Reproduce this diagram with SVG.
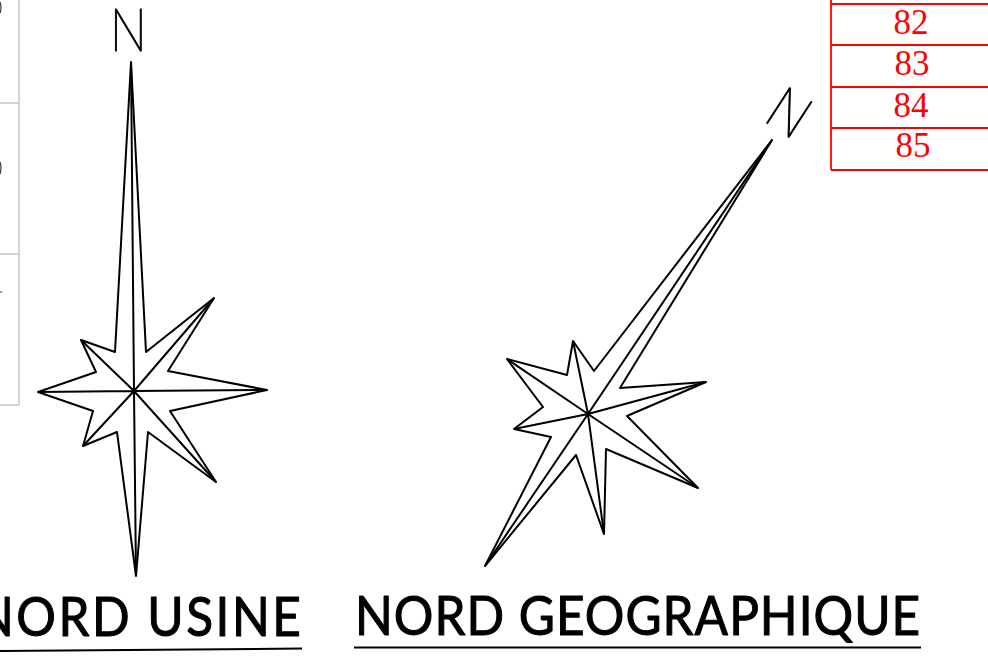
<svg xmlns="http://www.w3.org/2000/svg" width="988" height="667" viewBox="0 0 988 667">
<style>
.star{fill:#fff;stroke:#000;stroke-width:2;stroke-linejoin:round}
.spoke{fill:none;stroke:#000;stroke-width:2;stroke-linecap:butt}
.grey{fill:none;stroke:#c4c4c4;stroke-width:1.4}
.red{fill:none;stroke:#f00;stroke-width:1.8}
.num{font-family:"Liberation Serif","Times New Roman",serif;font-size:35px;fill:#f00;text-anchor:middle}
.cap{font-family:"Lato","Open Sans",sans-serif;font-size:55px;fill:#000;stroke:#000;stroke-width:1.1;stroke-linejoin:round}
.n{font-family:"Inter","Lato",sans-serif;font-weight:100;font-size:58px;fill:#000;stroke:#000;stroke-width:1.1;stroke-linejoin:round}
.rule{fill:none;stroke:#000;stroke-width:2}
</style>
<g id="grey-table">
<path class="grey" d="M19 0V405M0 103H19M0 254H19M0 405H19"/>
<path d="M0 2Q2 8 0 13M0 162Q2 168 0 174" fill="none" stroke="#333" stroke-width="1.2"/>
<path d="M0 292H2" fill="none" stroke="#333" stroke-width="1.2"/>
</g>
<g id="red-table">
<path class="red" d="M831 0V170M831 4H988M831 45H988M831 87H988M831 128H988M831 170H988"/>
<text class="num" x="911" y="34">82</text>
<text class="num" x="912" y="75">83</text>
<text class="num" x="911" y="117">84</text>
<text class="num" x="913" y="157">85</text>
</g>
<g id="nord-usine">
<polygon class="star" points="131,62 146,352 214,298 168,371 267,390 170,411 216,482 148,432 136,576 117,432 83,446 93,411 38,392 96,372 81,340 115,352"/>
<path class="spoke" d="M131 62L134 391L136 576M38 392L134 391L267 390M81 340L134 391L216 482M214 298L134 391L83 446"/>
<text class="n" transform="translate(110 51) scale(.82 1)">N</text>
<text class="cap" transform="translate(-24 636) scale(.9 1)" textLength="361" lengthAdjust="spacing">NORD USINE</text>
<path class="rule" d="M0 651L302 648.500"/>
</g>
<g id="nord-geographique">
<polygon class="star" points="772,140 620,388 706,382 627,416 698,488 606,449 604,534 576,455 485,566 551,437 514,429 543,407 507,359 567,375 573,341 594,371"/>
<path class="spoke" d="M772 140L588 414L485 566M706 382L588 414L514 429M698 488L588 414L507 359M573 341L588 414L604 534"/>
<text class="n" transform="translate(762 120) rotate(33) scale(.84 1)">N</text>
<text class="cap" transform="translate(355 635) scale(.9 1)" textLength="628" lengthAdjust="spacing">NORD GEOGRAPHIQUE</text>
<path class="rule" d="M354 647.500H921"/>
</g>
</svg>
